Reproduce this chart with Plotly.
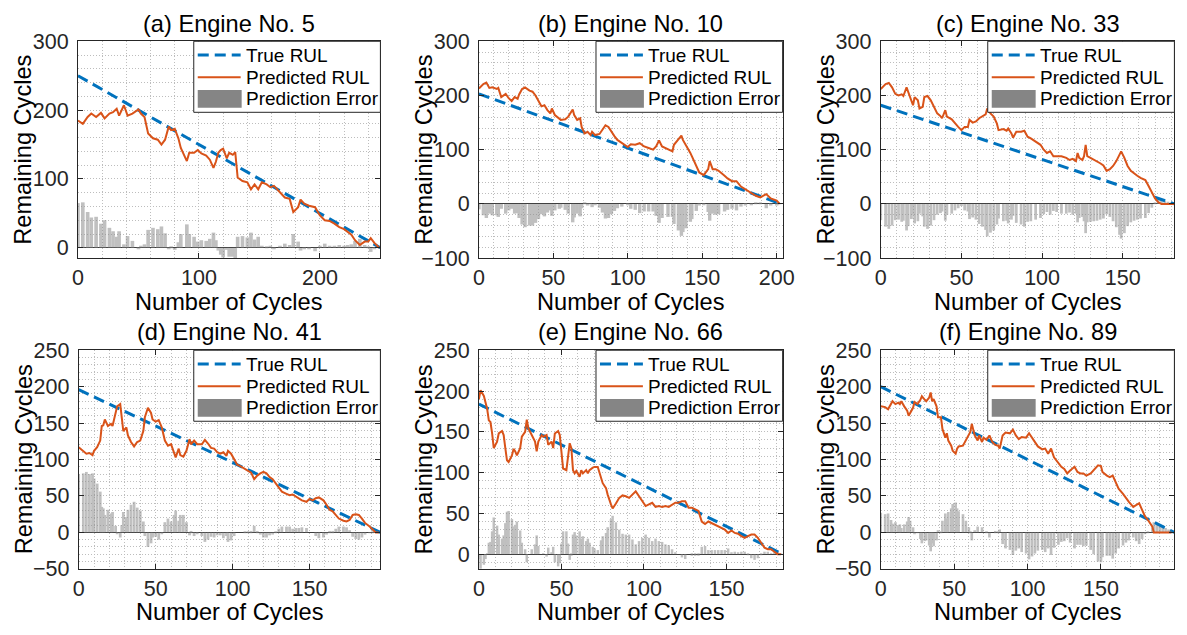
import plotly.graph_objects as go
import numpy as np

# Figure size; the photographed picture shows the page (figure + 8px body margin) scaled to 1187x635
W, H = 1187, 635
OFF = 8
SX, SY = W / (W + 2 * OFF), H / (H + 2 * OFF)
FONT = "Liberation Sans, Arial, Helvetica, sans-serif"
BLUE = "#0072BD"
ORANGE = "#D95319"
TXT = "#262626"

# ---------------- data ----------------
e5_life = 250
e5_cycle = [0, 4, 8, 11, 15, 19, 22, 26, 29, 32, 34, 38, 41, 45, 50, 52, 55, 58, 62, 66, 69, 72, 75, 77, 80,
            83, 85, 90, 92, 96, 99, 102, 106, 109, 112, 114, 116, 118, 120, 123, 125, 128, 130, 132, 136, 140,
            143, 146, 149, 152, 156, 159, 162, 167, 171, 175, 178, 182, 184, 187, 191, 196, 200, 204, 208, 212,
            216, 220, 223, 226, 229, 233, 237, 240, 242, 245, 249]
e5_pred = [185, 180, 190, 195, 190, 196, 188, 195, 197, 202, 192, 207, 192, 195, 201, 195, 190, 166, 159, 157,
           150, 157, 176, 171, 173, 159, 145, 126, 138, 138, 142, 137, 134, 128, 116, 125, 138, 142, 144, 130,
           138, 135, 139, 102, 97, 95, 85, 92, 85, 95, 92, 88, 90, 80, 73, 71, 52, 59, 70, 64, 61, 59, 47, 40,
           39, 35, 30, 27, 23, 19, 11, 4, 9, 9, 14, 7, 0]

e10_life = 203
e10_cycle = [0, 3, 5, 7, 9, 12, 13, 15, 18, 20, 22, 24, 26, 27, 29, 31, 34, 36, 38, 40, 42, 44, 46, 48, 49, 51,
             54, 55, 58, 60, 63, 64, 66, 68, 69, 71, 73, 75, 76, 78, 81, 83, 85, 87, 89, 91, 93, 96, 100, 102,
             105, 108, 111, 114, 117, 119, 121, 123, 127, 130, 131, 134, 136, 137, 139, 142, 143, 146, 148, 151,
             154, 155, 157, 159, 161, 165, 167, 170, 173, 176, 179, 183, 186, 189, 193, 196, 200, 202]
e10_pred = [213, 221, 224, 214, 215, 212, 214, 197, 203, 195, 190, 197, 194, 202, 212, 215, 209, 207, 200, 191,
            180, 182, 173, 167, 176, 164, 158, 155, 156, 161, 174, 164, 155, 158, 142, 130, 133, 127, 133, 127,
            129, 136, 145, 142, 133, 125, 118, 112, 105, 110, 109, 112, 106, 103, 100, 106, 117, 106, 100, 97,
            109, 118, 126, 118, 109, 94, 88, 70, 58, 53, 64, 79, 64, 64, 61, 52, 47, 42, 42, 32, 27, 21, 15, 12,
            18, 10, 6, 0]

e33_life = 182
e33_cycle = [0, 3, 5, 7, 9, 11, 13, 14, 16, 17, 19, 20, 21, 23, 24, 26, 27, 29, 31, 33, 35, 37, 38, 40, 41, 44,
             46, 48, 50, 52, 54, 55, 57, 59, 61, 63, 65, 66, 68, 70, 72, 73, 76, 78, 79, 81, 82, 84, 87, 89, 91,
             93, 96, 99, 101, 103, 105, 107, 109, 112, 115, 117, 119, 121, 122, 123, 125, 126, 127, 128, 130,
             132, 134, 136, 138, 140, 142, 144, 146, 148, 149, 151, 153, 155, 157, 159, 161, 164, 166, 168, 170,
             172, 174, 176, 178, 180, 182]
e33_pred = [212, 221, 223, 215, 203, 200, 202, 199, 215, 206, 191, 182, 197, 191, 176, 179, 197, 199, 191, 179,
            167, 162, 158, 173, 161, 156, 148, 142, 136, 142, 142, 155, 150, 152, 158, 161, 165, 176, 167, 161,
            148, 136, 138, 135, 139, 130, 122, 133, 133, 135, 124, 121, 115, 109, 100, 94, 97, 88, 88, 88, 85,
            81, 83, 79, 94, 85, 81, 88, 109, 88, 85, 82, 79, 75, 71, 61, 64, 70, 79, 91, 97, 85, 70, 61, 56, 52,
            48, 44, 33, 21, 10, 3, 0, 0, 0, 0, 0]

e41_life = 196
e41_cycle = [0, 3, 5, 7, 9, 10, 12, 14, 15, 16, 17, 19, 21, 22, 24, 25, 27, 28, 29, 31, 32, 34, 36, 38, 40, 42,
             43, 45, 47, 48, 50, 52, 54, 56, 58, 60, 62, 63, 65, 66, 68, 70, 72, 73, 75, 77, 80, 82, 84, 86, 88,
             90, 92, 94, 96, 97, 99, 101, 103, 105, 108, 110, 112, 114, 116, 118, 120, 122, 124, 126, 128, 130,
             132, 135, 137, 139, 141, 143, 145, 148, 150, 152, 154, 156, 159, 161, 163, 165, 167, 169, 172, 174,
             176, 178, 180, 182, 184, 186, 189, 191, 193, 195]
e41_pred = [117, 112, 108, 109, 106, 112, 117, 126, 146, 147, 155, 146, 149, 146, 163, 173, 176, 158, 139, 144,
            133, 124, 118, 124, 126, 139, 158, 171, 164, 155, 152, 154, 144, 126, 119, 121, 110, 103, 115, 106,
            104, 112, 128, 121, 126, 121, 121, 127, 122, 116, 115, 110, 108, 110, 105, 112, 108, 100, 93, 91,
            87, 85, 82, 73, 78, 81, 83, 81, 76, 73, 67, 61, 56, 53, 51, 52, 49, 47, 44, 42, 46, 44, 47, 48, 44,
            38, 31, 29, 24, 19, 16, 15, 17, 24, 25, 24, 19, 13, 8, 4, 0, 0]

e66_life = 184
e66_cycle = [0, 1, 3, 4, 5, 6, 7, 8, 9, 11, 12, 14, 15, 16, 17, 18, 20, 21, 22, 23, 25, 26, 28, 29, 30, 32, 34,
             35, 36, 38, 39, 41, 42, 44, 45, 46, 48, 49, 50, 51, 53, 54, 55, 56, 57, 58, 59, 61, 62, 63, 65, 66,
             67, 69, 70, 72, 74, 75, 77, 78, 80, 81, 83, 85, 87, 89, 91, 93, 95, 97, 99, 101, 103, 105, 107, 109,
             111, 113, 115, 117, 119, 121, 123, 125, 127, 129, 131, 133, 135, 137, 139, 141, 143, 145, 147, 149,
             151, 153, 155, 157, 159, 161, 163, 165, 167, 169, 171, 173, 175, 177, 179, 181, 183]
e66_pred = [190, 201, 194, 186, 178, 164, 162, 148, 130, 138, 148, 151, 146, 130, 115, 113, 121, 129, 126, 121,
            130, 144, 150, 165, 154, 146, 138, 126, 138, 146, 144, 146, 134, 138, 130, 148, 151, 146, 121, 105,
            103, 117, 136, 130, 103, 99, 102, 95, 103, 99, 103, 99, 103, 106, 107, 107, 93, 87, 81, 73, 61, 56,
            62, 69, 72, 71, 69, 73, 77, 71, 65, 59, 61, 63, 58, 59, 58, 59, 58, 61, 63, 63, 65, 65, 57, 57, 55,
            53, 40, 37, 40, 38, 36, 34, 32, 30, 26, 29, 26, 25, 22, 20, 22, 24, 24, 20, 14, 8, 6, 6, 3, 0, 0]

e89_life = 200
e89_cycle = [0, 3, 5, 7, 8, 10, 12, 13, 14, 16, 18, 19, 20, 22, 23, 25, 27, 28, 30, 31, 33, 34, 35, 36, 38, 39,
             41, 42, 44, 45, 46, 48, 49, 51, 52, 53, 56, 58, 60, 61, 62, 64, 66, 67, 69, 70, 72, 74, 76, 78, 80,
             81, 83, 85, 88, 90, 92, 94, 96, 99, 101, 103, 105, 107, 110, 112, 114, 116, 118, 121, 123, 125, 127,
             129, 132, 134, 136, 138, 140, 143, 145, 148, 150, 151, 154, 156, 158, 160, 162, 165, 167, 169, 172,
             174, 176, 178, 180, 182, 185, 186, 188, 190, 192, 194, 196, 198]
e89_pred = [173, 172, 169, 176, 180, 176, 178, 176, 180, 173, 167, 160, 164, 171, 179, 176, 182, 187, 182, 180,
            185, 192, 180, 183, 173, 158, 158, 142, 130, 136, 126, 119, 112, 108, 115, 118, 119, 126, 133, 138,
            149, 133, 126, 133, 124, 130, 127, 133, 124, 120, 119, 115, 133, 137, 136, 141, 133, 128, 131, 130,
            136, 130, 124, 118, 114, 115, 108, 115, 103, 96, 90, 87, 81, 85, 90, 83, 81, 81, 78, 81, 85, 92, 91,
            83, 78, 76, 78, 69, 60, 53, 47, 42, 35, 38, 40, 31, 22, 17, 8, 0, 0, 0, 0, 0, 0, 0]

titles = ["(a) Engine No. 5", "(b) Engine No. 10", "(c) Engine No. 33",
          "(d) Engine No. 41", "(e) Engine No. 66", "(f) Engine No. 89"]
legend_labels = ["True RUL", "Predicted RUL", "Prediction Error"]
xlabel = "Number of Cycles"
ylabel = "Remaining Cycles"

# ---------------- layout settings (boxes in picture pixels) ----------------
panels = [
    dict(cyc=e5_cycle, pred=e5_pred, life=e5_life, box=(80, 38.5, 383, 258.3), xr=[0, 250], yr=[-15, 300],
         xd=100, yd=100, xm=20, ym=20, bw=3.0),
    dict(cyc=e10_cycle, pred=e10_pred, life=e10_life, box=(481.7, 38.5, 786, 258.3), xr=[0, 204], yr=[-100, 300],
         xd=50, yd=100, xm=10, ym=20, bw=2.3),
    dict(cyc=e33_cycle, pred=e33_pred, life=e33_life, box=(884.3, 38.5, 1178.5, 258.3), xr=[0, 182], yr=[-100, 300],
         xd=50, yd=100, xm=10, ym=20, bw=1.7),
    dict(cyc=e41_cycle, pred=e41_pred, life=e41_life, box=(80.7, 351.7, 383, 573.3), xr=[0, 196], yr=[-50, 250],
         xd=50, yd=50, xm=10, ym=10, bw=1.8),
    dict(cyc=e66_cycle, pred=e66_pred, life=e66_life, box=(481.7, 351.7, 786, 573.3), xr=[0, 184], yr=[-18, 250],
         xd=50, yd=50, xm=10, ym=10, bw=1.5),
    dict(cyc=e89_cycle, pred=e89_pred, life=e89_life, box=(884.3, 351.7, 1178.5, 573.3), xr=[0, 200], yr=[-50, 250],
         xd=50, yd=50, xm=10, ym=10, bw=1.8),
]


def px(x):
    """picture x pixel -> paper fraction"""
    return (x / SX - OFF) / W


def py(y):
    """picture y pixel -> paper fraction"""
    return 1 - (y / SY - OFF) / H


def fs(size):
    return round(size / SY, 1)


fig = go.Figure()
shapes = []
annotations = []
layout = {}

GRID = "#bdbdbd"
for i, p in enumerate(panels, start=1):
    sfx = "" if i == 1 else str(i)
    xa, ya = "x" + sfx, "y" + sfx
    L, T, R, B = p["box"]
    cyc = np.array(p["cyc"], dtype=float)
    pred = np.array(p["pred"], dtype=float)
    true_at = p["life"] - cyc
    err = true_at - pred

    fig.add_trace(go.Bar(x=cyc, y=err, width=p["bw"], marker=dict(color="#8c8c8c", line=dict(width=0)),
                         opacity=0.55, xaxis=xa, yaxis=ya, showlegend=False))
    fig.add_trace(go.Scatter(x=[0, p["life"]], y=[p["life"], 0], mode="lines",
                             line=dict(color=BLUE, width=3, dash="11px,6px"), xaxis=xa, yaxis=ya,
                             showlegend=False))
    fig.add_trace(go.Scatter(x=cyc, y=pred, mode="lines", line=dict(color=ORANGE, width=2),
                             xaxis=xa, yaxis=ya, showlegend=False))

    common = dict(showline=True, linecolor=TXT, linewidth=1, mirror="ticks", ticks="inside", ticklen=5,
                  tickcolor=TXT, tickfont=dict(size=fs(21), color=TXT, family=FONT), showgrid=True,
                  gridcolor=GRID, griddash="1px,2px", gridwidth=1)
    layout["xaxis" + sfx] = dict(common, domain=[px(L), px(R)], range=p["xr"], anchor=ya, dtick=p["xd"],
                                 tick0=0, zeroline=False, ticklabelstandoff=0,
                                 minor=dict(dtick=p["xm"], tick0=0, showgrid=True, gridcolor=GRID,
                                            griddash="1px,2px", ticks=""))
    layout["yaxis" + sfx] = dict(common, domain=[py(B), py(T)], range=p["yr"], anchor=xa, dtick=p["yd"],
                                 tick0=0, zeroline=True, zerolinecolor="#3c3c3c", zerolinewidth=1,
                                 ticklabelstandoff=4,
                                 minor=dict(dtick=p["ym"], tick0=0, showgrid=True, gridcolor=GRID,
                                            griddash="1px,2px", ticks=""))

    cx = (L + R) / 2
    cy = (T + B) / 2
    annotations.append(dict(text=titles[i - 1], x=px(cx), y=py(T - 18), xref="paper", yref="paper",
                            showarrow=False, xanchor="center", yanchor="middle",
                            font=dict(size=fs(23), color="black", family=FONT)))
    annotations.append(dict(text=xlabel, x=px(cx), y=py(B + 44), xref="paper", yref="paper",
                            showarrow=False, xanchor="center", yanchor="middle",
                            font=dict(size=fs(23), color="black", family=FONT)))
    annotations.append(dict(text=ylabel, x=px(L - 55), y=py(cy), xref="paper", yref="paper",
                            showarrow=False, xanchor="center", yanchor="middle", textangle=-90,
                            font=dict(size=fs(23), color="black", family=FONT)))

    # legend box (top-right inside axes)
    lx0, lx1, ly0, ly1 = R - 187, R, T, T + 72
    shapes.append(dict(type="rect", xref="paper", yref="paper", x0=px(lx0), x1=px(lx1), y0=py(ly1), y1=py(ly0),
                       line=dict(color=TXT, width=1), fillcolor="white", layer="above"))
    rows = [T + 14, T + 36.5, T + 58.5]
    shapes.append(dict(type="line", xref="paper", yref="paper", x0=px(R - 183), x1=px(R - 140),
                       y0=py(rows[0]), y1=py(rows[0]), line=dict(color=BLUE, width=3, dash="11px,6px"),
                       layer="above"))
    shapes.append(dict(type="line", xref="paper", yref="paper", x0=px(R - 183), x1=px(R - 140),
                       y0=py(rows[1]), y1=py(rows[1]), line=dict(color=ORANGE, width=2), layer="above"))
    shapes.append(dict(type="rect", xref="paper", yref="paper", x0=px(R - 183), x1=px(R - 139),
                       y0=py(rows[2] + 9), y1=py(rows[2] - 9), line=dict(width=0), fillcolor="#858585",
                       layer="above"))
    for r, lab in zip(rows, legend_labels):
        annotations.append(dict(text=lab, x=px(R - 136), y=py(r), xref="paper", yref="paper",
                                showarrow=False, xanchor="left", yanchor="middle", borderpad=0,
                                font=dict(size=19, color="black", family=FONT)))

fig.update_layout(width=W, height=H, margin=dict(l=0, r=0, t=0, b=0), paper_bgcolor="white",
                  plot_bgcolor="white", barmode="overlay", showlegend=False, shapes=shapes,
                  annotations=annotations, font=dict(family=FONT), **layout)

fig.write_html("out.html")
